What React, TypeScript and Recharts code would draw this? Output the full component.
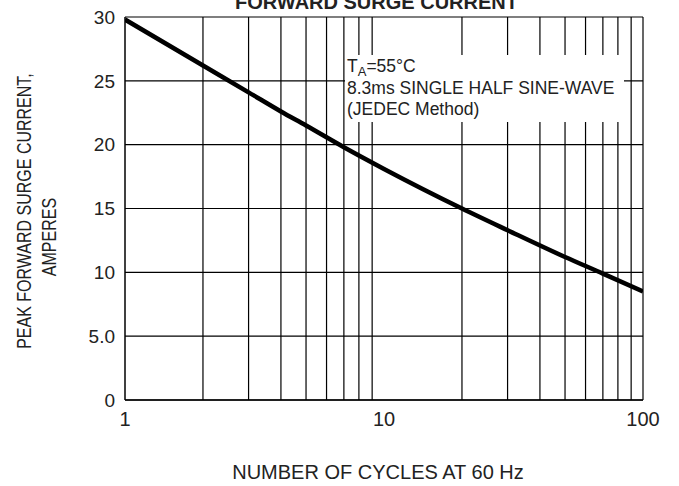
import {
  LineChart,
  Line,
  XAxis,
  YAxis,
  CartesianGrid,
  ReferenceLine,
} from 'recharts'

// cycles at 60 Hz vs peak forward surge current (A)
const cycles = [1, 2, 3, 4, 5, 7, 10, 20, 30, 50, 70, 100]
const amps = [29.8, 26.2, 24.1, 22.6, 21.5, 19.8, 18.1, 15.0, 13.3, 11.2, 9.9, 8.5]

const xTicks = [1, 10, 100]
const yTicks = [0, 5, 10, 15, 20, 25, 30]
const minorX = [2, 3, 4, 5, 6, 7, 8, 9, 20, 30, 40, 50, 60, 70, 80, 90, 100]

const data = cycles.map((c, i) => ({ cycles: c, amps: amps[i] }))

const FONT = '"Liberation Sans", Arial, sans-serif'
const INK = '#222'

function fmtY(v: number): string {
  return v === 5 ? '5.0' : String(v)
}

export default function App() {
  return (
    <div style={{ position: 'absolute', left: 0, top: 0, width: 679, height: 486, background: '#fff', fontFamily: FONT, overflow: 'hidden' }}>
      <LineChart
        width={679}
        height={486}
        data={data}
        margin={{ top: 17, right: 36, left: 85, bottom: 56 }}
      >
        <CartesianGrid vertical={false} stroke="#000" strokeWidth={1.2} />
        {minorX.map((v) => (
          <ReferenceLine key={v} x={v} stroke="#000" strokeWidth={1.2} />
        ))}
        <XAxis
          dataKey="cycles"
          type="number"
          scale="log"
          domain={[1, 100]}
          ticks={xTicks}
          tickLine={false}
          tickMargin={6}
          axisLine={{ stroke: '#000', strokeWidth: 1.5 }}
          tick={{ fontSize: 20, fill: INK, fontFamily: FONT }}
          height={30}
          allowDataOverflow
        />
        <YAxis
          type="number"
          domain={[0, 30]}
          ticks={yTicks}
          tickFormatter={fmtY}
          tickLine={false}
          tickMargin={4}
          axisLine={{ stroke: '#000', strokeWidth: 1.5 }}
          tick={{ fontSize: 19, fill: INK, fontFamily: FONT }}
          width={40}
        />
        <Line
          type="monotone"
          dataKey="amps"
          stroke="#000"
          strokeWidth={4.5}
          dot={false}
          isAnimationActive={false}
        />
      </LineChart>

      <div style={{ position: 'absolute', left: 235, top: -9, fontSize: 20, lineHeight: '22px', fontWeight: 'bold', color: INK }}>
        FORWARD SURGE CURRENT
      </div>

      <div
        style={{
          position: 'absolute',
          left: 345,
          top: 55,
          width: 279,
          height: 67,
          background: '#fff',
          fontSize: 17.5,
          lineHeight: '21.5px',
          color: INK,
          paddingLeft: 2,
          paddingTop: 1,
          boxSizing: 'border-box',
          whiteSpace: 'nowrap',
        }}
      >
        <div>
          T<sub style={{ fontSize: 13, verticalAlign: -4, lineHeight: 0 }}>A</sub>=55°C
        </div>
        <div>8.3ms SINGLE HALF SINE-WAVE</div>
        <div>(JEDEC Method)</div>
      </div>

      <div
        style={{
          position: 'absolute',
          left: 25,
          top: 211,
          transform: 'translate(-50%, -50%) rotate(-90deg) scaleY(1.25)',
          whiteSpace: 'nowrap',
          fontSize: 16,
          color: INK,
        }}
      >
        PEAK FORWARD SURGE CURRENT,
      </div>
      <div
        style={{
          position: 'absolute',
          left: 50,
          top: 237,
          transform: 'translate(-50%, -50%) rotate(-90deg) scaleY(1.25)',
          whiteSpace: 'nowrap',
          fontSize: 16,
          color: INK,
        }}
      >
        AMPERES
      </div>

      <div
        style={{
          position: 'absolute',
          left: 378,
          top: 472,
          transform: 'translate(-50%, -50%)',
          whiteSpace: 'nowrap',
          fontSize: 20,
          color: INK,
        }}
      >
        NUMBER OF CYCLES AT 60 Hz
      </div>
    </div>
  )
}
